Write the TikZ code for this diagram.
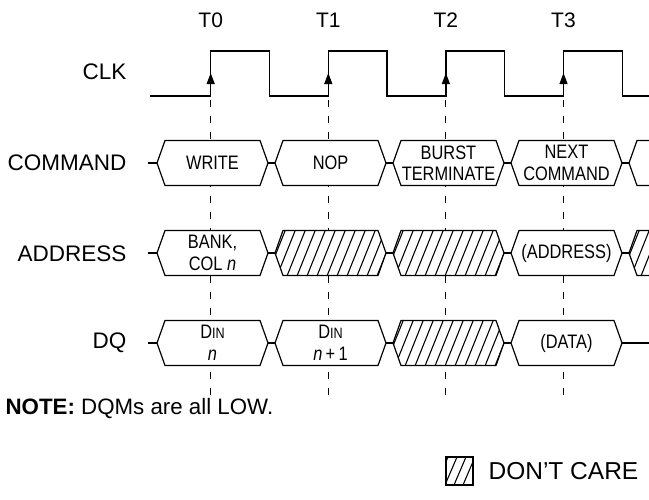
\documentclass[tikz,border=0pt]{standalone}
\usepackage{fontspec}
\setmainfont{Liberation Sans}
\newfontfamily\condfont[FakeStretch=0.84]{Liberation Sans}
\usetikzlibrary{arrows.meta}
\newcommand\tdhex[2]{(#1,#2) -- ++(8,-22.5) -- ++(95,0) -- ++(8,22.5) -- ++(-8,22.5) -- ++(-95,0) -- cycle}
\newcommand\tdhatch[3]{\begin{scope}
    \clip \tdhex{#1}{#2};
    \fill[white] \tdhex{#1}{#2};
    \foreach \k in {0,...,15} \draw[hatchline] ({#1-18+10*\k},{#2+23}) -- ++(18.4,-46);
  \end{scope}
  \draw \tdhex{#1}{#2};
  \coordinate (#3) at ({#1+55.5},#2);}
\begin{document}
\begin{tikzpicture}[x=1pt,y=-1pt, line width=1.2pt,
  lbl/.style={font=\fontsize{22.5}{24}\selectfont, anchor=east, inner sep=0pt},
  tlbl/.style={font=\fontsize{21}{23}\selectfont, inner sep=0pt},
  boxtxt/.style={font=\condfont\fontsize{19.5}{21.5}\selectfont, align=center, inner sep=0pt},
  tick/.style={line width=1pt, dash pattern=on 7pt off 9pt},
  hatchline/.style={line width=1.1pt},
  clkarrow/.style={-{Triangle[length=11pt,width=8pt]}, line width=1.2pt}]
\useasboundingbox (0,0) rectangle (649,499);
\clip (0,0) rectangle (649,499);

% time labels
\node[tlbl] (t0) at (210.7,20) {T0};
\node[tlbl] (t1) at (328.3,20) {T1};
\node[tlbl] (t2) at (445.9,20) {T2};
\node[tlbl] (t3) at (563.5,20) {T3};

% row labels
\node[lbl] (lclk) at (127,72) {CLK};
\node[lbl] (lcmd) at (127,163) {COMMAND};
\node[lbl] (ladr) at (127,254) {ADDRESS};
\node[lbl] (ldq)  at (127,343) {DQ};

% dashed time markers
\foreach \r in {210.7,328.3,445.9,563.5}
  \draw[tick] (\r,100) -- (\r,396);

% clock
\draw (150,96) -- (210.7,96) -- (210.7,51) -- (269.3,51) -- (269.3,96)
  -- (328.3,96) -- (328.3,51) -- (386.9,51) -- (386.9,96)
  -- (445.9,96) -- (445.9,51) -- (504.5,51) -- (504.5,96)
  -- (563.5,96) -- (563.5,51) -- (622.1,51) -- (622.1,96) -- (649,96);
\foreach \r in {210.7,328.3,445.9,563.5}
  \draw[clkarrow] (\r,96) -- (\r,73);

% signal base lines
\draw (148,163) -- (649,163);
\draw (148,253) -- (649,253);
\draw (148,343) -- (649,343);

% COMMAND row
\draw[fill=white] \tdhex{157}{163};
\node[boxtxt] (c0) at (212.5,163) {WRITE};
\draw[fill=white] \tdhex{275}{163};
\node[boxtxt] (c1) at (330.5,163) {NOP};
\draw[fill=white] \tdhex{393}{163};
\node[boxtxt] (c2) at (448.5,163) {BURST\\TERMINATE};
\draw[fill=white] \tdhex{511}{163};
\node[boxtxt] (c3) at (566.5,163) {NEXT\\COMMAND};
\draw[fill=white] \tdhex{629}{163};

% ADDRESS row
\draw[fill=white] \tdhex{157}{253};
\node[boxtxt] (a0) at (212.5,253) {BANK,\\COL \textit{n}};
\tdhatch{275}{253}{a1}
\tdhatch{393}{253}{a2}
\draw[fill=white] \tdhex{511}{253};
\node[boxtxt] (a3) at (566.5,253) {(ADDRESS)};
\tdhatch{629}{253}{a4}

% DQ row
\draw[fill=white] \tdhex{157}{343};
\node[boxtxt] (d0) at (212.5,343) {D{\fontsize{15}{15}\selectfont IN}\\\textit{n}};
\draw[fill=white] \tdhex{275}{343};
\node[boxtxt] (d1) at (330.5,343) {D{\fontsize{15}{15}\selectfont IN}\\\textit{n}\,+\,1};
\tdhatch{393}{343}{d2}
\draw[fill=white] \tdhex{511}{343};
\node[boxtxt] (d3) at (566.5,343) {(DATA)};

% note
\node[anchor=west, inner sep=0pt, font=\fontsize{22.3}{24}\selectfont] (note) at (5,409) {\textbf{NOTE:} DQMs are all LOW.};

% legend
\begin{scope}
  \clip (446,457) rectangle (473,485);
  \foreach \k in {0,...,5} \draw[hatchline] ({436+9*\k},485) -- ++(12,-28);
\end{scope}
\draw (446,457) rectangle (473,485);
\node[anchor=west, inner sep=0pt, font=\fontsize{24.5}{26}\selectfont] (dc) at (488,471) {DON’T CARE};
\end{tikzpicture}
\end{document}
